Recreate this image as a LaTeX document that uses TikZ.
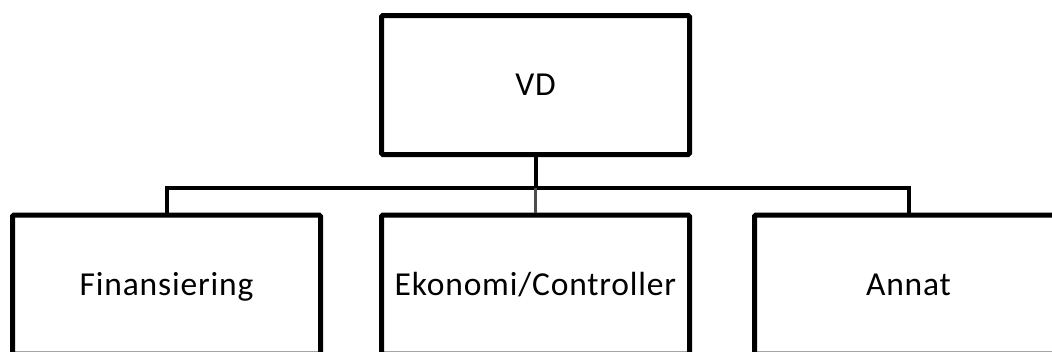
\documentclass[tikz,border=0pt]{standalone}
\usepackage{fontspec}
\setmainfont{Carlito}[LetterSpace=2.5]
\begin{document}
\begin{tikzpicture}[x=1pt,y=-1pt,
  orgbox/.style={draw=black, line width=5pt, rounded corners=1.5pt,
    minimum width=308pt, minimum height=139pt, inner sep=0pt,
    font=\fontsize{33.5}{36}\selectfont, text height=22pt, text depth=1pt},
  link/.style={draw=black, line width=4pt, line join=miter},
  sublink/.style={draw=black!70, line width=3pt}]
  \useasboundingbox (0,0) rectangle (1052,351);
  \clip (0,0) rectangle (1052,351);
  \fill[white] (0,0) rectangle (1052,351);
  % boxes
  \node[orgbox] (vd)  at (535.5,85)    {VD};
  \node[orgbox] (fin) at (166.5,284.5) {Finansiering};
  \node[orgbox] (eko) at (535.5,284.5) {Ekonomi/Controller};
  \node[orgbox] (ann) at (908.5,284.5) {Annat};
  % connector rail
  \coordinate (rail) at (535.5,187.5);
  \draw[link] (fin.north) -- (fin.north |- rail) -- (ann.north |- rail) -- (ann.north);
  \draw[link] (vd.south) -- (vd.south |- rail);
  \draw[sublink] (vd.south |- rail) -- (eko.north);
\end{tikzpicture}
\end{document}
